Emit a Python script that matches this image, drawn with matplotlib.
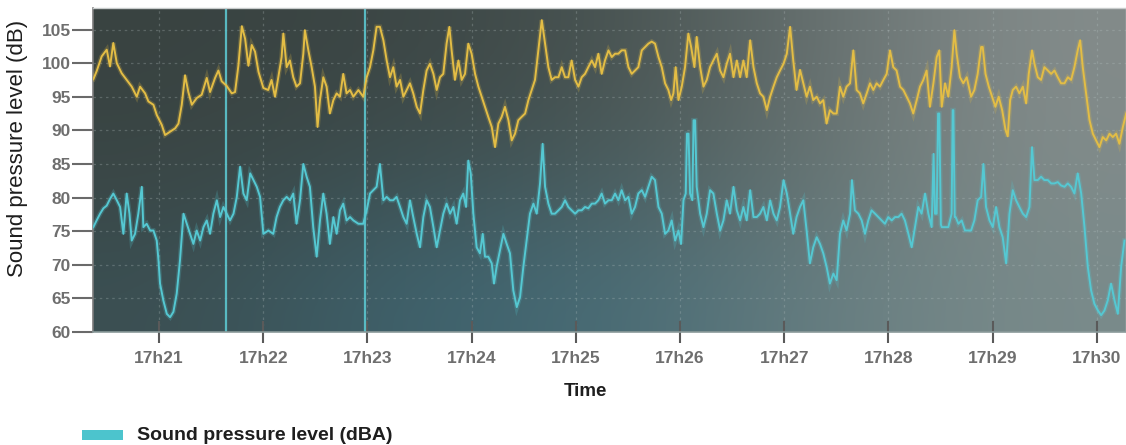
import numpy as np
import matplotlib
matplotlib.use("Agg")
import matplotlib.pyplot as plt
from matplotlib.patches import Rectangle

# ---- data (time in seconds after 17:20:00) ----
db_time = [22.2, 24.1, 27.0, 29.9, 31.8, 33.7, 35.7, 38.5, 41.4, 44.3, 47.2, 49.1, 52.0, 53.9, 56.8, 58.7,
           61.6, 63.5, 66.4, 69.3, 71.2, 73.1, 75.0, 76.9, 78.9, 81.7, 84.6, 87.5, 89.4, 92.3, 94.2, 96.1,
           99.0, 101.9, 103.8, 105.7, 107.7, 109.6, 111.5, 113.4, 115.3, 117.3, 120.1,
           122.9, 124.8, 126.8, 128.7, 130.6, 131.6, 133.5, 135.4, 137.3, 139.2, 141.2, 143.1, 144.0, 146.0,
           147.9, 149.8, 151.3, 152.7, 154.6, 156.5, 158.4, 160.4, 162.3, 164.2, 166.1, 168.0, 170.0, 171.9,
           174.8, 177.6, 179.6, 181.5, 183.4, 185.3, 187.2, 189.2, 191.1, 193.0, 194.9, 196.8, 198.8, 200.7,
           202.6, 204.5, 206.4, 208.4, 210.3, 212.2, 214.1, 216.0, 218.0, 219.9, 221.8,
           223.7, 225.6, 227.2, 228.5, 230.4, 232.4, 234.3, 236.2, 238.1, 240.0, 242.0, 243.9, 245.8, 247.7,
           249.6, 251.6, 253.5, 255.4, 257.3, 259.2, 261.2, 263.1, 265.0, 266.9, 268.8, 270.8, 272.7, 274.6,
           276.5, 278.4, 280.4, 282.3, 284.2, 286.1, 288.0, 290.0, 291.9, 293.8, 295.7, 297.6, 299.6, 301.5,
           303.4, 305.3, 307.2, 309.2, 311.1, 313.0, 314.9, 316.8, 318.8, 320.7, 322.6,
           324.5, 326.4, 328.4, 330.3, 332.2, 334.1, 336.0, 338.0, 339.9, 341.8, 343.7, 345.6, 347.6, 349.5,
           351.4, 353.3, 354.9, 356.2, 357.5, 359.1, 361.0, 362.9, 364.8, 366.4, 368.3, 369.6, 371.6, 373.5,
           375.4, 377.3, 379.2, 381.2, 383.1, 385.0, 386.9, 388.8, 390.8, 392.7, 394.6, 396.5, 398.4, 400.4,
           402.3, 404.2, 406.1, 408.0, 410.0, 411.9, 413.8, 415.7, 417.6, 419.6, 421.5, 423.4,
           425.2, 427.1, 429.1, 431.0, 432.9, 434.8, 436.7, 438.7, 440.6, 442.5, 444.4, 446.3, 448.3, 450.2,
           452.1, 454.0, 455.9, 457.9, 459.8, 461.7, 463.6, 465.5, 467.5, 469.4, 471.3, 473.2, 475.1, 477.1,
           479.0, 480.9, 482.8, 484.7, 486.7, 488.6, 490.5, 492.4, 494.3, 496.3, 498.2, 500.1, 502.0, 503.9,
           505.9, 507.8, 509.3, 510.7, 512.6, 514.5, 516.4, 518.0, 519.3, 521.2, 523.1, 525.1,
           527.6, 529.5, 531.4, 533.4, 534.3, 535.9, 537.8, 539.7, 541.6, 543.5, 545.5, 547.4, 548.7, 550.1,
           551.6, 553.5, 555.4, 557.4, 559.3, 560.8, 562.7, 564.1, 566.0, 567.9, 569.8, 571.8, 573.7, 575.6,
           577.5, 579.4, 581.4, 583.3, 585.2, 587.1, 589.0, 590.4, 591.9, 593.8, 595.8, 597.7, 599.6, 601.5,
           603.4, 605.4, 607.3, 609.2, 611.1, 613.0, 615.0, 616.9]
db_level = [97.6, 98.8, 101.0, 102.0, 99.5, 103.0, 100.0, 98.5, 97.5, 96.5, 95.0, 96.5, 95.5, 94.3, 93.8, 92.3,
            90.8, 89.3, 89.8, 90.3, 91.0, 93.8, 98.2, 95.7, 93.8, 94.8, 95.3, 97.8, 95.7, 97.8, 98.9, 97.3,
            96.6, 95.5, 95.7, 99.6, 105.5, 103.6, 99.6, 102.7, 101.7, 98.7, 96.3,
            96.0, 97.5, 95.0, 97.9, 100.9, 104.4, 99.4, 100.4, 97.9, 96.5, 97.0, 101.4, 104.9, 101.9,
            99.4, 96.5, 90.5, 94.5, 97.9, 96.5, 92.5, 94.5, 95.5, 95.0, 98.4, 95.5, 96.0, 95.0,
            96.0, 95.0, 97.9, 99.4, 101.9, 105.4, 105.4, 103.4, 100.4, 97.9, 99.4, 96.5, 97.5, 95.0,
            96.0, 97.0, 95.5, 93.5, 92.5, 96.0, 98.9, 99.9, 98.4, 96.0, 97.9,
            98.4, 102.9, 105.4, 101.9, 97.5, 100.4, 97.5, 98.4, 102.9, 101.4, 98.4, 96.5, 95.0, 93.5,
            92.0, 90.5, 87.5, 91.0, 92.0, 93.5, 91.5, 88.5, 89.5, 91.5, 92.0, 92.5, 94.5, 96.0,
            97.5, 101.9, 106.4, 102.9, 99.4, 97.5, 97.9, 97.9, 99.4, 97.9, 97.9, 100.4, 97.5, 96.5,
            97.9, 98.4, 99.4, 100.4, 99.4, 101.4, 98.4, 100.4, 101.9, 100.9, 101.4,
            101.4, 101.9, 101.9, 99.4, 98.4, 98.9, 99.4, 101.9, 102.4, 102.9, 103.2, 102.9, 100.9, 99.4,
            97.0, 96.0, 94.5, 95.5, 99.4, 94.5, 96.5, 99.4, 104.4, 102.4, 99.4, 103.9, 99.4, 96.5,
            97.5, 99.4, 100.4, 101.4, 98.9, 97.9, 99.9, 101.4, 97.9, 100.4, 97.9, 100.4, 97.9, 103.4,
            99.4, 97.0, 95.5, 95.0, 93.0, 95.0, 96.5, 97.9, 98.9, 99.9, 101.4, 105.4,
            100.4, 96.0, 99.0, 97.0, 95.0, 96.5, 94.5, 95.0, 94.0, 94.5, 91.0, 93.0, 92.5, 92.5,
            96.5, 95.0, 96.5, 97.0, 101.9, 96.0, 95.5, 94.0, 95.5, 97.0, 96.0, 97.0, 96.5, 97.5,
            98.4, 101.9, 99.4, 98.9, 96.5, 96.0, 95.0, 94.0, 92.5, 94.5, 96.5, 97.5, 98.9, 93.5,
            97.0, 100.9, 101.9, 93.5, 97.0, 95.0, 99.4, 104.9, 101.4, 97.9, 97.0, 97.9,
            95.0, 96.0, 98.4, 102.4, 102.4, 98.4, 96.5, 95.0, 93.5, 95.0, 93.0, 90.1, 89.1, 94.5,
            96.0, 96.5, 95.5, 96.5, 94.0, 98.4, 101.9, 99.9, 97.9, 97.5, 99.4, 98.9, 98.4, 98.9,
            97.9, 97.0, 97.0, 97.9, 97.5, 99.4, 101.9, 103.4, 99.4, 95.5, 91.5, 89.5, 88.5, 87.5,
            89.0, 88.5, 89.5, 89.0, 89.5, 88.0, 90.5, 92.5]

dba_time = [22.2, 24.1, 26.1, 28.0, 29.9, 31.8, 33.7, 35.7, 37.6, 39.5, 41.4, 43.0, 44.3, 46.2, 48.1, 50.1,
            51.0, 52.9, 54.9, 56.8, 58.7, 59.7, 60.6, 62.5, 64.5, 66.4, 68.3, 70.2, 72.1, 74.1, 76.0, 77.9,
            79.8, 81.7, 83.7, 85.6, 87.5, 89.4, 91.3, 93.3, 95.2, 97.1, 99.0, 100.9, 102.9, 104.8, 106.7,
            108.6, 110.5, 112.5, 114.4, 116.3, 118.2, 120.1, 123.0,
            125.8, 127.7, 129.6, 131.6, 133.5, 135.4, 137.3, 139.2, 141.2, 143.1, 145.0, 146.9, 148.8, 150.8,
            152.7, 154.6, 156.5, 158.4, 160.4, 162.3, 164.2, 166.1, 168.0, 170.0, 171.9, 174.8, 177.6, 179.6,
            181.5, 183.4, 185.3, 187.2, 189.2, 191.1, 193.0, 194.9, 196.8, 198.8, 200.7, 202.6, 204.5, 206.4,
            208.4, 210.3, 212.2, 214.1, 216.0, 218.0, 219.9,
            223.7, 225.6, 227.6, 229.5, 231.4, 233.3, 235.2, 236.8, 238.1, 239.5, 241.0, 242.9, 244.8, 246.4,
            247.7, 249.6, 251.6, 252.9, 254.4, 256.4, 258.3, 260.2, 262.1, 264.0, 266.0, 267.9, 269.8, 271.7,
            273.6, 275.6, 277.5, 279.4, 280.9, 282.3, 284.2, 286.1, 288.0, 290.0, 291.9, 293.8, 295.7, 297.6,
            299.6, 301.5, 303.4, 305.3, 307.2, 309.2, 311.1, 313.0, 314.9, 316.8, 318.8, 320.7, 322.6,
            324.5, 326.4, 328.4, 330.3, 332.2, 334.1, 336.0, 338.0, 339.9, 341.8, 343.7, 345.6, 347.6, 349.5,
            351.4, 353.3, 355.2, 357.2, 359.1, 360.6, 362.0, 363.3, 364.0, 364.9, 365.8, 367.1, 367.8, 368.7,
            369.6, 371.6, 373.5, 375.4, 377.3, 379.2, 381.2, 383.1, 385.0, 386.9, 388.8, 390.8, 392.7, 394.6,
            396.5, 398.4, 400.4, 402.3, 404.2, 406.1, 408.0, 410.0, 411.9, 413.8, 415.7, 417.6, 419.6, 421.5,
            423.4,
            425.2, 427.1, 429.1, 431.0, 432.9, 434.8, 436.7, 438.7, 440.6, 442.5, 444.4, 446.3, 448.3, 450.2,
            452.1, 454.0, 455.9, 457.9, 459.0, 460.7, 462.7, 464.6, 466.5, 468.4, 470.3, 472.3, 474.2, 476.1,
            478.0, 479.9, 481.9, 483.8, 485.7, 487.6, 489.5, 491.5, 493.4, 495.3, 497.2, 499.1, 501.1, 503.0,
            504.9, 506.0, 506.8, 507.8, 508.6, 509.3, 510.2, 510.7, 512.6, 514.5, 516.4, 517.0, 517.4, 518.2,
            518.7, 520.3, 522.2, 524.1,
            527.6, 529.5, 531.4, 533.4, 534.7, 536.2, 538.2, 540.1, 542.0, 543.9, 545.8, 547.8, 549.7, 551.6,
            553.5, 555.4, 557.4, 559.3, 561.2, 562.7, 564.1, 566.0, 567.9, 569.8, 571.8, 573.7, 575.6, 577.5,
            579.4, 581.4, 583.3, 585.2, 587.1, 589.0, 591.0, 592.9, 594.8, 596.7, 598.6, 600.6, 602.5, 604.4,
            606.3, 608.2, 610.2, 612.1, 614.0, 615.9]
dba_level = [75.6, 76.6, 77.6, 78.4, 78.8, 79.8, 80.6, 79.6, 78.6, 74.6, 80.6, 77.6, 73.6, 74.6, 77.6, 81.6,
             75.6, 76.1, 75.1, 75.1, 73.6, 70.7, 67.2, 64.7, 62.7, 62.2, 63.0, 65.7, 70.7, 77.6, 76.1, 74.6,
             73.1, 75.1, 73.6, 75.6, 76.6, 74.6, 77.6, 79.6, 77.1, 78.6, 77.6, 76.6, 77.6, 80.1, 84.6,
             80.6, 79.6, 83.6, 82.6, 81.6, 80.1, 74.6, 75.1,
             74.6, 77.1, 78.6, 79.6, 80.1, 79.6, 80.6, 76.1, 79.6, 85.0, 83.1, 81.6, 75.6, 71.2,
             76.6, 80.6, 77.6, 73.1, 77.1, 74.6, 78.1, 79.1, 76.6, 77.1, 76.6, 76.1, 76.1, 78.1,
             80.6, 81.1, 81.6, 85.0, 79.6, 80.1, 79.6, 79.6, 80.1, 78.6, 77.1, 76.1, 79.6, 77.1,
             74.6, 72.6, 77.1, 79.6, 78.6, 75.6, 72.6,
             77.6, 79.1, 77.6, 78.6, 76.1, 79.6, 80.6, 78.6, 85.5, 83.6, 77.6, 72.6, 71.7, 74.6,
             71.2, 71.2, 70.2, 67.2, 69.7, 72.2, 74.6, 73.1, 71.7, 66.2, 63.7, 65.2, 69.7, 73.6,
             77.6, 79.1, 77.6, 82.1, 88.0, 81.6, 79.1, 77.6, 77.6, 78.1, 78.6, 79.6, 78.6, 78.1,
             77.6, 78.1, 78.1, 78.6, 78.4, 79.1, 79.1, 79.6, 80.6, 79.1, 79.6, 79.6, 80.6,
             79.6, 81.1, 79.6, 80.1, 77.6, 78.6, 80.6, 81.1, 80.1, 81.6, 83.1, 82.6, 78.6, 77.6,
             74.6, 75.1, 76.6, 73.6, 75.1, 73.1, 79.6, 80.6, 89.5, 89.5, 80.6, 79.6, 91.5, 91.5,
             81.6, 77.6, 75.6, 77.6, 81.1, 80.6, 77.6, 75.1, 76.6, 79.6, 77.6, 81.6, 78.1, 76.6,
             78.6, 76.6, 81.1, 77.1, 77.1, 77.6, 78.6, 76.6, 79.6, 77.6, 76.6, 78.6, 82.6, 80.6,
             77.6,
             74.6, 77.1, 78.6, 79.6, 75.1, 70.2, 72.6, 74.1, 73.1, 71.7, 69.7, 67.2, 68.7, 67.7,
             74.6, 76.6, 75.1, 77.6, 82.6, 78.1, 77.6, 76.6, 74.6, 76.6, 78.1, 77.6, 77.1, 76.6,
             76.1, 77.1, 76.6, 77.1, 77.1, 77.6, 76.6, 74.6, 72.6, 75.6, 78.6, 77.6, 80.6, 77.6,
             75.6, 86.5, 77.6, 77.6, 92.5, 92.5, 76.0, 75.6, 75.6, 75.6, 77.6, 93.0, 93.0, 77.1,
             77.1, 76.1, 76.6, 75.1,
             75.1, 76.6, 79.6, 80.1, 85.0, 78.6, 76.6, 75.6, 78.6, 75.6, 74.1, 70.2, 77.6, 81.1,
             79.6, 78.6, 77.6, 77.1, 78.6, 87.5, 82.6, 82.6, 83.1, 82.6, 82.6, 82.1, 82.1, 82.3,
             81.8, 81.6, 82.1, 81.6, 80.6, 83.6, 80.6, 75.6, 69.7, 66.2, 64.2, 63.2, 62.5, 63.2,
             64.7, 67.2, 64.7, 62.7, 69.7, 73.6]

marker_times = [98.8, 178.6]          # cyan vertical markers
y_ticks = [60, 65, 70, 75, 80, 85, 90, 95, 100, 105]
x_tick_secs = [60, 120, 180, 240, 300, 360, 420, 480, 540, 600]
x_tick_labels = ["17h21", "17h22", "17h23", "17h24", "17h25", "17h26", "17h27", "17h28", "17h29", "17h30"]

plt.rcParams['font.family'] = ['Liberation Sans', 'DejaVu Sans']

fig = plt.figure(figsize=(11.26, 4.45), dpi=100)
fig.patch.set_facecolor('white')
ax = fig.add_axes([93 / 1126, 1 - 332 / 445, 1 - 93 / 1126, 324 / 445])

# background gradient (photo of a screen)
rows = [
    ['#394341', '#3c4645', '#475250', '#66706f', '#848c8b'],
    ['#3a4645', '#3d5052', '#485b5d', '#667473', '#818c8b'],
    ['#3b4f52', '#3e626d', '#476b75', '#667d80', '#7a8b8b'],
]
grad = np.array([[matplotlib.colors.to_rgb(c) for c in r] for r in rows])
ax.imshow(grad, extent=[0, 1, 0, 1], transform=ax.transAxes, aspect='auto',
          interpolation='bicubic', zorder=0)

ax.set_xlim(22.0, 616.8)
ax.set_ylim(60, 108.2)

# grid
for yv in y_ticks[1:]:
    ax.axhline(yv, color='#b8c4c4', lw=0.9, ls=(0, (2, 3)), alpha=0.28, zorder=1)
for xv in x_tick_secs:
    ax.axvline(xv, color='#b8c4c4', lw=0.9, ls=(0, (2, 3)), alpha=0.28, zorder=1)

for mt in marker_times:
    ax.axvline(mt, color='#5cc6cf', lw=1.6, alpha=0.9, zorder=2)

yellow = '#e3bd45'
cyan = '#55c8d2'
# glow underlay
ax.plot(db_time, db_level, color=yellow, lw=3.4, alpha=0.22, zorder=3, solid_joinstyle='miter')
ax.plot(dba_time, dba_level, color=cyan, lw=3.4, alpha=0.22, zorder=3, solid_joinstyle='miter')
ax.plot(db_time, db_level, color=yellow, lw=1.4, zorder=4)
ax.plot(dba_time, dba_level, color=cyan, lw=1.4, zorder=4)

ax.set_yticks(y_ticks)
ax.set_yticklabels([str(v) for v in y_ticks])
ax.set_xticks(x_tick_secs)
ax.set_xticklabels(x_tick_labels)
ax.tick_params(axis='y', direction='out', length=15, width=1.5, color='#6a6a6a', pad=1,
               labelsize=12.5, labelcolor='#6e6e6e')
ax.tick_params(axis='x', direction='inout', length=16, width=1.5, color='#5a5a5a', pad=6,
               labelsize=12.5, labelcolor='#6e6e6e')
for lab in ax.get_xticklabels() + ax.get_yticklabels():
    lab.set_fontweight('bold')

for side in ['top', 'right']:
    ax.spines[side].set_color('#c8cccc')
    ax.spines[side].set_linewidth(1.0)
ax.spines['left'].set_color('#7a7a7a')
ax.spines['left'].set_linewidth(1.2)
ax.spines['bottom'].set_color('#8a9a9a')
ax.spines['bottom'].set_linewidth(1.2)

fig.text(18 / 1126, 1 - 148 / 445, 'Sound pressure level (dB)', rotation=90, ha='center', va='center',
         fontsize=16, color='#1e1e1e')
fig.text(585 / 1126, 1 - 392 / 445, 'Time', ha='center', va='center', fontsize=13.5,
         fontweight='bold', color='#1e1e1e')

# legend
fig.patches.append(Rectangle((82 / 1126, 1 - 440 / 445), 41 / 1126, 10 / 445,
                             transform=fig.transFigure, facecolor='#4cc4cd', edgecolor='none'))
fig.text(137 / 1126, 1 - 435 / 445, 'Sound pressure level (dBA)', ha='left', va='center',
         fontsize=14, fontweight='bold', color='#1e1e1e')

fig.savefig('out.png', dpi=100)
